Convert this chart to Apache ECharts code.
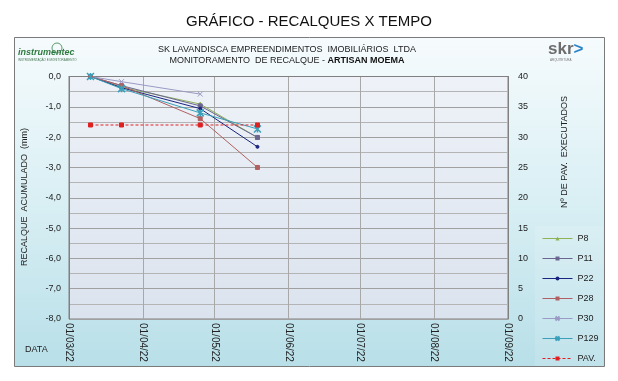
<!DOCTYPE html>
<html>
<head>
<meta charset="utf-8">
<script src="https://cdn.jsdelivr.net/npm/echarts@6/dist/echarts.min.js"></script>
<style>
html,body{margin:0;padding:0;background:#fff;}
#c{width:618px;height:381px;}
</style>
</head>
<body>
<div id="c"></div>
<script>
// ---- data ----
const dates = ['2022-03-10', '2022-03-23', '2022-04-25', '2022-05-19'];
const P8   = [0, -0.35, -0.91, -2.01];
const P11  = [0, -0.30, -0.97, -2.01];
const P22  = [0, -0.37, -1.06, -2.32];
const P28  = [0, -0.30, -1.39, -3.00];
const P30  = [0, -0.17, -0.58, null];
const P129 = [0, -0.40, -1.20, -1.73];
const PAV  = [32, 32, 32, 32];
const xMin = '2022-03-01';
const xMax = '2022-09-01';

function pairs(vals){ return dates.map((d,i)=>[d, vals[i]]); }

const FONT = 'Liberation Sans, Arial, sans-serif';
const chart = echarts.init(document.getElementById('c'), null, {renderer:'canvas'});

function lineSeries(name, vals, color, symbol, size, extra){
  return Object.assign({
    name: name, type: 'line', data: pairs(vals),
    symbol: symbol, symbolSize: size, showSymbol: true,
    lineStyle: {color: color, width: 1},
    itemStyle: {color: color, borderColor: color},
    emphasis: {disabled: true},
    animation: false
  }, extra || {});
}

const option = {
  animation: false,
  textStyle: {fontFamily: FONT},
  title: {
    text: 'GRÁFICO - RECALQUES X TEMPO',
    left: 'center', top: 9,
    textStyle: {fontFamily: FONT, fontSize: 15, fontWeight: 'normal', color: '#111'}
  },
  graphic: [
    {type:'rect', z:-10, silent:true, shape:{x:14.5, y:37.5, width:590, height:329},
     style:{fill:{type:'linear', x:0, y:0, x2:0, y2:1, colorStops:[
        {offset:0, color:'#f6fbfd'}, {offset:0.5, color:'#d9eff4'}, {offset:1, color:'#b8dfe8'}]},
        stroke:'#7a7a7a', lineWidth:1}},
    {type:'rect', z:-9, silent:true, shape:{x:535, y:226, width:68, height:140},
     style:{fill:'rgba(255,255,255,0.12)'}},
    {type:'text', silent:true, x:287, y:45,
     style:{text:'SK LAVANDISCA EMPREENDIMENTOS  IMOBILIÁRIOS  LTDA', font:'9px '+FONT, fill:'#222', align:'center'}},
    {type:'text', silent:true, x:287, y:56,
     style:{text:'{a|MONITORAMENTO  DE RECALQUE - }{b|ARTISAN MOEMA}', align:'center',
       rich:{a:{font:'9px '+FONT, fill:'#222', color:'#222'}, b:{font:'bold 9px '+FONT, fill:'#111', color:'#111'}}}},
    // instrumentec logo
    {type:'circle', silent:true, shape:{cx:57, cy:48, r:5}, style:{fill:'none', stroke:'#5a9a6a', lineWidth:1}},
    {type:'text', silent:true, x:18, y:48,
     style:{text:'instrumentec', font:'italic bold 9px '+FONT, fill:'#2f7a3f'}},
    {type:'text', silent:true, x:18, y:59,
     style:{text:'INSTRUMENTAÇÃO E MONITORAMENTO', font:'3px '+FONT, fill:'#4a7a55'}},
    // skr logo
    {type:'text', silent:true, x:548, y:41,
     style:{text:'{s|skr}{g|>}', rich:{s:{font:'bold 17px '+FONT, fill:'#6d6d6d', color:'#6d6d6d'}, g:{font:'bold 17px '+FONT, fill:'#2c84c6', color:'#2c84c6'}}}},
    {type:'text', silent:true, x:550, y:59,
     style:{text:'ARQUITETURA', font:'3px '+FONT, fill:'#777'}},
    // axis names
    {type:'text', silent:true, x:25, y:197, rotation:Math.PI/2,
     style:{text:'RECALQUE  ACUMULADO  (mm)', font:'9px '+FONT, fill:'#222', align:'center', verticalAlign:'middle'}},
    {type:'text', silent:true, x:565, y:152, rotation:Math.PI/2,
     style:{text:'Nº DE PAV.  EXECUTADOS', font:'9px '+FONT, fill:'#222', align:'center', verticalAlign:'middle'}},
    {type:'text', silent:true, x:25, y:345,
     style:{text:'DATA', font:'9px '+FONT, fill:'#222'}}
  ],
  grid: {left: 69, right: 110, top: 76.5, bottom: 62, show: true,
    backgroundColor: {type:'linear', x:0, y:0, x2:0, y2:1, colorStops:[{offset:0, color:'#eef2f8'}, {offset:1, color:'#dbe3ee'}]},
    borderColor: '#808080', borderWidth: 1},
  legend: {
    orient: 'vertical', left: 537, top: 228, itemGap: 9, itemWidth: 30, itemHeight: 5,
    lineStyle: {width: 1},
    textStyle: {fontFamily: FONT, fontSize: 9, color: '#222', lineHeight: 11},
    data: ['P8','P11','P22','P28','P30','P129','PAV.']
  },
  xAxis: {
    type: 'time', min: xMin, max: xMax, splitNumber: 6,
    axisLine: {show: true, lineStyle: {color: '#808080'}},
    axisTick: {show: false},
    splitLine: {show: true, lineStyle: {color: '#a8a8a8', width: 1}},
    axisLabel: {
      rotate: -90, fontSize: 10, color: '#222', fontFamily: FONT, margin: 4,
      showMinLabel: true, showMaxLabel: true,
      formatter: function(v){
        const d = new Date(v);
        const dd = String(d.getDate()).padStart(2,'0');
        const mm = String(d.getMonth()+1).padStart(2,'0');
        const yy = String(d.getFullYear()).slice(2);
        return dd + '/' + mm + '/' + yy;
      }
    }
  },
  yAxis: [
    {type: 'value', min: -8, max: 0, interval: 1,
     axisLine: {show: true, lineStyle: {color: '#808080'}},
     axisTick: {show: false},
     axisLabel: {fontSize: 9, color: '#222', fontFamily: FONT, margin: 8,
       formatter: v => v.toFixed(1).replace('.', ',')},
     splitLine: {show: true, lineStyle: {color: '#a0a0a0', width: 1}},
     minorTick: {show: false, splitNumber: 2},
     minorSplitLine: {show: true, lineStyle: {color: '#b4b4b4', width: 1}}
    },
    {type: 'value', min: 0, max: 40, interval: 5, position: 'right',
     axisLine: {show: true, lineStyle: {color: '#808080'}},
     axisTick: {show: false},
     axisLabel: {fontSize: 9, color: '#222', fontFamily: FONT, margin: 10},
     splitLine: {show: false}
    }
  ],
  series: [
    lineSeries('P8', P8, '#8db356', 'triangle', 4),
    lineSeries('P11', P11, '#6b6690', 'rect', 4),
    lineSeries('P22', P22, '#1a237e', 'circle', 3),
    lineSeries('P28', P28, '#b06060', 'rect', 4),
    lineSeries('P30', P30, '#9a9ac4', 'path://M0,0L10,10M10,0L0,10', 5, {itemStyle:{color:'#9a9ac4', borderColor:'#9a9ac4', borderWidth:1}}),
    lineSeries('P129', P129, '#3a9fb8', 'path://M0,0L10,10M10,0L0,10M5,0L5,10', 7, {itemStyle:{color:'#3a9fb8', borderColor:'#3a9fb8', borderWidth:1.5}}),
    lineSeries('PAV.', PAV, '#e02020', 'rect', 4, {yAxisIndex: 1, lineStyle:{color:'#e02020', width:1.2, type:[3,2]}})
  ]
};
chart.setOption(option);
</script>
</body>
</html>
